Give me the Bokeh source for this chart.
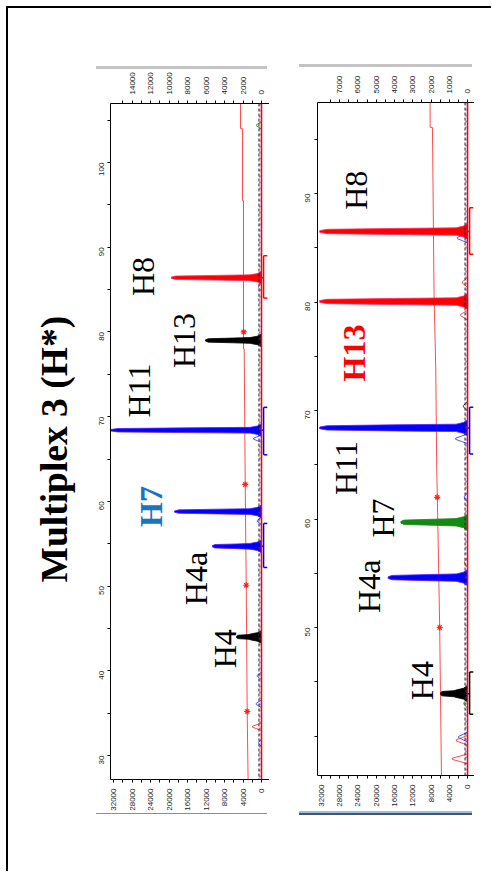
import math
from bokeh.plotting import figure
from bokeh.layouts import row, column
from bokeh.models import (Range1d, LinearAxis, FixedTicker, Spacer, Span)
from bokeh.core.properties import value
from bokeh.embed import file_html
from bokeh.resources import INLINE

# ---------------- data ----------------
TITLE = "Multiplex 3 (H*)"

# left electropherogram
L_allele = ["H4", "H4a", "H7", "H11", "H13", "H8"]
L_peak_bp = [44.0, 54.7, 58.8, 68.4, 79.0, 86.4]
L_peak_rfu = [5400, 10600, 18800, 32700, 12100, 19500]
L_peak_dye = ["black", "blue", "blue", "blue", "black", "red"]
L_label_bp = [42.6, 50.9, 59.4, 73.1, 79.0, 86.55]
L_label_rfu = [8000, 14270, 24000, 26590, 16860, 25730]
L_noise_bp = [31.5, 33.4, 36.1, 39.4, 57.7, 67.4, 85.3, 104.4]
L_noise_rfu = [600, 1950, 1150, 930, 900, 1700, 700, 1100]
L_noise_dye = ["blue", "red", "blue", "blue", "blue", "blue", "red", "green"]
L_thr_bp = [107.0, 104.0, 104.0, 95.5, 95.5, 78.0, 78.0, 62.0, 50.0, 35.0, 27.2]
L_thr_rfu = [4540, 4540, 4110, 4110, 3890, 3890, 3740, 3520, 3300, 3090, 2900]
L_star_bp = [35.2, 50.1, 62.0, 80.0]
L_star_rfu = [3090, 3300, 3520, 3850]
L_bin_lo = [52.2, 65.5, 84.0]
L_bin_hi = [57.4, 71.1, 89.0]
L_bin_mid = [54.7, 68.4, 86.4]
L_bin_dye = ["blue", "blue", "red"]
L_bp_ticks = [30, 40, 50, 60, 70, 80, 90, 100]
L_bp_minor = [35, 45, 55, 65, 75, 85, 95, 105]
L_rfu_ticks = [0, 4000, 8000, 12000, 16000, 20000, 24000, 28000, 32000]
L_rfu_minor = [2000, 6000, 10000, 14000, 18000, 22000, 26000, 30000]
L_top_ticks = [0, 2000, 4000, 6000, 8000, 10000, 12000, 14000]
L_top_minor = [1000, 3000, 5000, 7000, 9000, 11000, 13000, 15000]

# right electropherogram
R_allele = ["H4", "H4a", "H7", "H11", "H13", "H8"]
R_peak_bp = [43.9, 54.6, 59.7, 68.4, 80.05, 86.5]
R_peak_rfu = [5900, 17400, 14600, 32400, 32400, 32400]
R_peak_dye = ["black", "blue", "green", "blue", "red", "red"]
R_label_bp = [45.1, 53.8, 60.1, 64.7, 75.3, 90.3]
R_label_rfu = [10010, 21550, 18500, 26560, 24820, 24380]
R_noise_bp = [37.9, 39.6, 39.9, 43.0, 56.0, 62.0, 67.4, 70.4, 78.8, 81.8, 85.9]
R_noise_rfu = [3330, 2460, 1960, 800, 700, 700, 2600, 900, 1520, 1150, 2240]
R_noise_dye = ["red", "red", "blue", "green", "red", "blue", "blue", "black", "red", "red", "blue"]
R_thr_bp = [98.4, 96.1, 96.1, 80.8, 74.0, 64.7, 58.7, 50.0, 36.4]
R_thr_rfu = [8200, 8200, 7690, 7340, 6970, 6750, 6470, 6100, 5720]
R_star_bp = [62.0, 50.0]
R_star_rfu = [6650, 6100]
R_bin_lo = [42.0, 66.0, 84.4]
R_bin_hi = [45.9, 70.3, 88.7]
R_bin_mid = [43.9, 68.4, 86.5]
R_bin_dye = ["black", "blue", "red"]
R_bp_ticks = [50, 60, 70, 80, 90]
R_bp_minor = [40, 45, 55, 65, 75, 85, 95]
R_rfu_ticks = [0, 4000, 8000, 12000, 16000, 20000, 24000, 28000, 32000]
R_rfu_minor = [2000, 6000, 10000, 14000, 18000, 22000, 26000, 30000]
R_top_ticks = [0, 1000, 2000, 3000, 4000, 5000, 6000, 7000]
R_top_minor = [500, 1500, 2500, 3500, 4500, 5500, 6500, 7500]

# ---------------- styles ----------------
FILL = {"blue": "#0000ff", "red": "#ff0000", "black": "#000000", "green": "#138a13"}
EDGE = {"blue": "#5a1cff", "red": "#ff2a6a", "black": "#000000", "green": "#138a13"}
TRACE = {"blue": "#4a55ff", "red": "#ff4a4a", "black": "#333333", "green": "#2a9a2a"}
BIN = {"blue": "#0000ff", "red": "#ff0000", "black": "#000000"}
TICK_FONT = "Liberation Sans"
LABEL_FONT = "Liberation Serif"


def peak_shape(bp, h):
    levels = [0, min(900, 0.2 * h), min(2500, 0.45 * h), 0.5 * h, 0.95 * h, h]
    half = [0.75, 0.5, 0.34, 0.28, 0.2, 0.08]
    ys = [bp - w for w in half] + [bp + w for w in reversed(half)]
    xs = levels + list(reversed(levels))
    return xs, ys


def bump_shape(bp, h):
    levels = [0, 0.5 * h, h]
    half = [0.45, 0.25, 0.06]
    ys = [bp - w for w in half] + [bp + w for w in reversed(half)]
    xs = levels + list(reversed(levels))
    return xs, ys


def style_axes(p, bp_ticks, bp_minor, rfu_ticks, rfu_minor, top_ticks, top_minor, left_standoff):
    xa = p.xaxis[0]
    xa.ticker = FixedTicker(ticks=rfu_ticks, minor_ticks=rfu_minor)
    ya = p.yaxis[0]
    ya.ticker = FixedTicker(ticks=bp_ticks, minor_ticks=bp_minor)
    top = LinearAxis(x_range_name="top",
                     ticker=FixedTicker(ticks=top_ticks, minor_ticks=top_minor))
    p.add_layout(top, "above")
    for ax in (xa, top):
        ax.major_label_orientation = math.pi / 2
        ax.major_label_standoff = 6
        ax.major_tick_in = 0
        ax.major_tick_out = 3
        ax.minor_tick_in = 0
        ax.minor_tick_out = 3
    ya.major_label_orientation = math.pi / 2
    ya.major_label_standoff = left_standoff
    ya.major_tick_in = 0
    ya.major_tick_out = 3
    ya.minor_tick_in = 0
    ya.minor_tick_out = 3
    for ax in (xa, ya, top):
        ax.axis_line_color = "#000000"
        ax.major_tick_line_color = "#000000"
        ax.minor_tick_line_color = "#000000"
        ax.major_label_text_font = TICK_FONT
        ax.major_label_text_font_size = "8px"
        ax.major_label_text_color = "#222222"


def draw_panel(p, peak_bp, peak_rfu, peak_dye, allele, label_bp, label_rfu,
               highlight, noise_bp, noise_rfu, noise_dye, thr_bp, thr_rfu,
               star_bp, star_rfu, bin_lo, bin_hi, bin_mid, bin_dye):
    # threshold line and stars
    p.line(thr_rfu, thr_bp, line_color="#ff4d4d", line_width=1)
    p.scatter(star_rfu, star_bp, marker="asterisk", size=6, line_color="#ff2020", line_width=1.2)
    # baselines
    p.add_layout(Span(location=0, dimension="height", line_color="#ff0000", line_width=1.6))
    p.add_layout(Span(location=550, dimension="height", line_color="#222222",
                      line_width=1, line_dash="3 2"))
    p.add_layout(Span(location=350, dimension="height", line_color="#3a3aff",
                      line_width=1, line_dash="2 4"))
    # noise / pull-up traces
    for b, h, d in zip(noise_bp, noise_rfu, noise_dye):
        xs, ys = bump_shape(b, h)
        p.line(xs, ys, line_color=TRACE[d], line_width=1)
    # filled peaks
    for b, h, d in zip(peak_bp, peak_rfu, peak_dye):
        xs, ys = peak_shape(b, h)
        p.patch(xs, ys, fill_color=FILL[d], line_color=EDGE[d], line_width=0.8)
    # bins (brackets)
    for lo, hi, mid, d in zip(bin_lo, bin_hi, bin_mid, bin_dye):
        c = BIN[d]
        p.segment(x0=[-450, -450, -450, -450], y0=[lo, lo, hi, mid],
                  x1=[-450, -1250, -1250, 400], y1=[hi, lo, hi, mid],
                  line_color=c, line_width=1.5)
    # allele labels
    for t, b, r in zip(allele, label_bp, label_rfu):
        if t in highlight:
            p.text([r], [b], text=[t], angle=math.pi / 2, text_align="center",
                   text_baseline="middle", text_font=value(LABEL_FONT),
                   text_font_size="32px", text_font_style="bold",
                   text_color=highlight[t])
        else:
            p.text([r], [b], text=[t], angle=math.pi / 2, text_align="center",
                   text_baseline="middle", text_font=value(LABEL_FONT),
                   text_font_size="32px", text_color="#000000")


# ---------------- left panel ----------------
p1 = figure(width=261, height=744, output_backend="svg", toolbar_location=None,
            x_range=Range1d(32650, -1730), y_range=Range1d(27.17, 106.97),
            min_border_left=102, min_border_right=0, min_border_top=34, min_border_bottom=34,
            title=TITLE, title_location="left")
p1.extra_x_ranges = {"top": Range1d(32650 / 2, -1730 / 2)}
p1.title.text_font = LABEL_FONT
p1.title.text_font_size = "37.5px"
p1.title.text_font_style = "bold"
p1.title.text_color = "#000000"
p1.title.align = "left"
p1.title.standoff = 38
p1.title.offset = 197
p1.outline_line_color = None
p1.grid.visible = False
style_axes(p1, L_bp_ticks, L_bp_minor, L_rfu_ticks, L_rfu_minor, L_top_ticks, L_top_minor, 6)
draw_panel(p1, L_peak_bp, L_peak_rfu, L_peak_dye, L_allele, L_label_bp, L_label_rfu,
           {"H7": "#1a74c4"}, L_noise_bp, L_noise_rfu, L_noise_dye, L_thr_bp, L_thr_rfu,
           L_star_bp, L_star_rfu, L_bin_lo, L_bin_hi, L_bin_mid, L_bin_dye)

# ---------------- right panel ----------------
p2 = figure(width=175, height=744, output_backend="svg", toolbar_location=None,
            x_range=Range1d(32870, -1524), y_range=Range1d(36.36, 98.39),
            min_border_left=17, min_border_right=0, min_border_top=35, min_border_bottom=36)
p2.extra_x_ranges = {"top": Range1d(32870 / 4, -1524 / 4)}
p2.outline_line_color = None
p2.grid.visible = False
style_axes(p2, R_bp_ticks, R_bp_minor, R_rfu_ticks, R_rfu_minor, R_top_ticks, R_top_minor, 7)
draw_panel(p2, R_peak_bp, R_peak_rfu, R_peak_dye, R_allele, R_label_bp, R_label_rfu,
           {"H13": "#ff0000"}, R_noise_bp, R_noise_rfu, R_noise_dye, R_thr_bp, R_thr_rfu,
           R_star_bp, R_star_rfu, R_bin_lo, R_bin_hi, R_bin_mid, R_bin_dye)

# ---------------- page layout ----------------
col1 = column(
    Spacer(width=261, height=58),
    row(Spacer(width=88, height=3),
        Spacer(width=171, height=3, styles={"background-color": "#c4c4c4"})),
    p1,
    row(Spacer(width=88, height=1),
        Spacer(width=171, height=1, styles={"background-color": "#5b9bd5"})),
    Spacer(width=261, height=59),
)
col2 = column(
    Spacer(width=175, height=56),
    Spacer(width=173, height=3, styles={"background-color": "#c4c4c4"}),
    p2,
    Spacer(width=173, height=2, styles={"background-color": "#9dbfe6"}),
    Spacer(width=173, height=2, styles={"background-color": "#44546a"}),
    Spacer(width=175, height=58),
)
page = row(col1, Spacer(width=30, height=10), col2, Spacer(width=19, height=10),
           styles={"box-shadow": "-2px -2px 0 0 #000000"})
outer = column(Spacer(width=10, height=8),
               row(Spacer(width=8, height=10), page))

open("out.html", "w").write(file_html(outer, INLINE))
